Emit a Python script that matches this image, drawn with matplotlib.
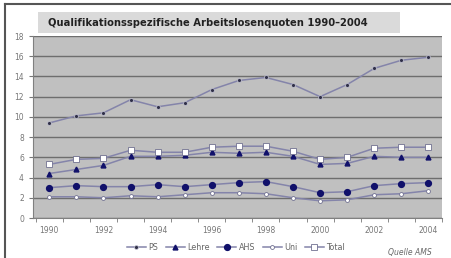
import numpy as np
import matplotlib.pyplot as plt
from matplotlib.patches import Rectangle
from matplotlib.lines import Line2D

years = list(range(1990, 2005))
ps = [9.4, 10.1, 10.4, 11.7, 11.0, 11.4, 12.7, 13.6, 13.9, 13.2, 12.0, 13.2, 14.8, 15.6, 15.9]
lehre = [4.4, 4.8, 5.2, 6.1, 6.1, 6.2, 6.5, 6.4, 6.5, 6.1, 5.3, 5.4, 6.1, 6.0, 6.0]
ahs = [3.0, 3.2, 3.1, 3.1, 3.3, 3.1, 3.3, 3.5, 3.6, 3.1, 2.5, 2.6, 3.2, 3.4, 3.5]
uni = [2.1, 2.1, 2.0, 2.2, 2.1, 2.3, 2.5, 2.5, 2.4, 2.0, 1.7, 1.8, 2.3, 2.4, 2.7]
total = [5.3, 5.8, 5.9, 6.7, 6.5, 6.5, 7.0, 7.1, 7.1, 6.6, 5.8, 6.0, 6.9, 7.0, 7.0]

line_col = '#8484aa'
navy = '#10106a'

fig = plt.figure(figsize=(4.51, 2.58), dpi=100)
fig.patch.set_facecolor('white')

# outer frame (left and top edges visible)
fig.add_artist(Line2D([5/451, 5/451], [0, 1 - 4/258], color='#555555', lw=1.5))
fig.add_artist(Line2D([5/451, 1], [1 - 4/258, 1 - 4/258], color='#555555', lw=1.5))

# title box
fig.add_artist(Rectangle((38/451, 1 - 33/258), 362/451, 21/258, facecolor='#dadada', edgecolor='none'))
fig.text(48/451, 1 - 22.5/258, 'Qualifikationsspezifische Arbeitslosenquoten 1990\u20132004',
         fontsize=7.2, fontweight='bold', color='#222222', va='center', ha='left')

ax = fig.add_axes([33/451, 40/258, 409/451, 182/258])
ax.set_facecolor('#c0c0c0')
x = np.arange(len(years))

ax.plot(x, ps, color=line_col, lw=1.1, marker='o', ms=2.8, mfc='#303048', mec='#c8c8d8', mew=0.5, label='PS')
ax.plot(x, lehre, color=line_col, lw=1.1, marker='^', ms=3.5, mfc=navy, mec=navy, label='Lehre')
ax.plot(x, ahs, color=line_col, lw=1.1, marker='o', ms=4.2, mfc=navy, mec=navy, label='AHS')
ax.plot(x, uni, color=line_col, lw=1.1, marker='o', ms=2.8, mfc='white', mec='#707090', mew=0.6, label='Uni')
ax.plot(x, total, color=line_col, lw=1.1, marker='s', ms=4, mfc='white', mec='#707090', mew=0.6, label='Total')

ax.set_xlim(-0.6, 14.5)
ax.set_ylim(0, 18)
ax.set_yticks(np.arange(0, 19, 2))
ax.set_xticks(x[::2])
ax.set_xticklabels([str(y) for y in years[::2]])
ax.set_xticks(np.arange(-0.5, 14.6, 1), minor=True)
ax.yaxis.grid(True, color='#6e6e6e', lw=1.0)
ax.set_axisbelow(True)
ax.tick_params(axis='both', labelsize=5.5, colors='#777777', length=3)
ax.tick_params(axis='x', which='major', length=0, pad=6)
ax.tick_params(axis='x', which='minor', length=3, color='#777777')
for s in ['top', 'right']:
    ax.spines[s].set_visible(False)
for s in ['left', 'bottom']:
    ax.spines[s].set_color('#808080')

leg = fig.legend(loc='center', bbox_to_anchor=(236/451, 1 - 247/258), ncol=5, frameon=False,
                 fontsize=5.8, handlelength=2.4, columnspacing=0.9, handletextpad=0.3)
for t in leg.get_texts():
    t.set_color('#666666')

fig.text(432/451, 1 - 252/258, 'Quelle AMS', fontsize=5.5, style='italic', color='#666666',
         ha='right', va='center')

fig.savefig('out.png', dpi=100)
